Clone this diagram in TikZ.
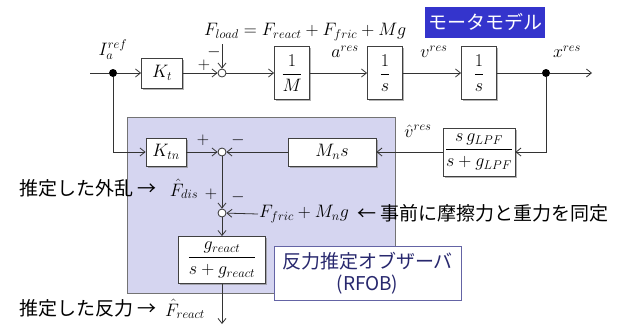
\RequirePackage{fix-cm}
\documentclass[tikz,border=0pt]{standalone}
\usepackage{amsmath}
\usepackage{fontspec}
\newfontfamily\jp{Noto Sans CJK JP}
\usetikzlibrary{arrows.meta,shadows}
\definecolor{lav}{RGB}{213,213,240}
\definecolor{mblue}{RGB}{52,52,204}
\definecolor{rfobedge}{RGB}{100,100,165}
\definecolor{rfobtext}{RGB}{40,40,110}
\begin{document}
\begin{tikzpicture}[x=1pt,y=-1pt,
  line/.style={draw=black!80, line width=0.8pt},
  arr/.style={line, -{Straight Barb[length=5pt,width=8pt]}},
  blk/.style={draw=black!75, fill=white, line width=0.8pt, inner sep=2pt, font=\fontsize{18}{20}\selectfont,
    drop shadow={shadow xshift=1.5pt,shadow yshift=-1.5pt,fill=black!50,opacity=0.6}},
  sumc/.style={circle, draw=black!80, fill=white, line width=0.8pt, minimum size=8pt, inner sep=0pt},
  dotn/.style={circle, fill=black, minimum size=8pt, inner sep=0pt},
  mt/.style={font=\fontsize{18}{20}\selectfont, inner sep=1pt},
  sg/.style={font=\fontsize{17}{18}\selectfont, inner sep=0pt},
  jt/.style={font=\jp\fontsize{19}{21}\selectfont, inner sep=0pt}
]
\useasboundingbox (0,0) rectangle (623,325);
% observer region
\draw[fill=lav, draw=black!55, line width=0.8pt] (127,117) rectangle (395,293);
% top row
\coordinate (in) at (90,73);
\node[dotn] (d1) at (113,73) {};
\node[blk, minimum width=41pt, minimum height=30pt] (kt) at (162,73) {$K_t$};
\node[sumc] (s1) at (222,73) {};
\node[blk, minimum width=35pt, minimum height=53pt] (m) at (292,73) {$\dfrac{1}{M}$};
\node[blk, minimum width=35pt, minimum height=53pt] (i1) at (385,73) {$\dfrac{1}{s}$};
\node[blk, minimum width=35pt, minimum height=53pt] (i2) at (479,73) {$\dfrac{1}{s}$};
\node[dotn] (d2) at (546,73) {};
\coordinate (out) at (592,73);
\draw[line] (in) -- (d1);
\draw[arr] (d1) -- (kt);
\draw[arr] (kt) -- (s1);
\draw[arr] (s1) -- (m);
\draw[arr] (m) -- (i1);
\draw[arr] (i1) -- (i2);
\draw[line] (i2) -- (d2);
\draw[arr] (d2) -- (out);
\node[mt] (lIa) at (113,50) {$I_a^{ref}$};
\node[mt, anchor=west] (lload) at (203,32) {$F_{load}=F_{react}+F_{fric}+Mg$};
\coordinate (loadtop) at (222,44);
\draw[arr] (loadtop) -- (s1);
\node[sg] (p1) at (204,65) {$+$};
\node[sg] (m1) at (214,52) {$-$};
\node[mt] (la) at (345,52) {$a^{res}$};
\node[mt] (lv) at (434,52) {$v^{res}$};
\node[mt] (lx) at (567,52) {$x^{res}$};
\node[fill=mblue, text=white, jt, minimum width=120pt, minimum height=31pt] (mm) at (485,22) {モータモデル};
% lower row
\node[blk, minimum width=40pt, minimum height=28pt] (ktn) at (166,152) {$K_{tn}$};
\node[sumc] (s2) at (222,152) {};
\node[blk, minimum width=88pt, minimum height=28pt] (mns) at (332,152) {$M_n s$};
\node[blk, minimum width=72pt, minimum height=48pt, inner sep=1pt] (lpf) at (479,152) {$\dfrac{s\,g_{LPF}}{s+g_{LPF}}$};
\draw[arr] (d2) |- (lpf.east);
\draw[arr] (lpf) -- (mns);
\draw[arr] (mns) -- (s2);
\draw[arr] (d1) |- (ktn.west);
\draw[arr] (ktn) -- (s2);
\node[mt] (lvh) at (418,131) {$\hat{v}^{res}$};
\node[sg] (p2) at (203,140) {$+$};
\node[sg] (m2) at (238,140) {$-$};
% disturbance junction
\node[sumc] (s3) at (222,213) {};
\draw[arr] (s2) -- (s3);
\node[sg] (p3) at (211,194) {$+$};
\node[sg] (m3) at (238,197) {$-$};
\node[mt, inner sep=0pt] (lfd) at (184,189) {$\hat{F}_{dis}$};
\node[jt, anchor=east] (tdis) at (157,188) {推定した外乱 →};
\node[mt, anchor=west] (ffric) at (258,214) {$F_{fric}+M_n g$};
\draw[arr] (ffric.west) -- (s3);
\node[jt, anchor=west] (tfric) at (357,213) {← 事前に摩擦力と重力を同定};
% reaction force filter
\node[blk, minimum width=87pt, minimum height=47pt, inner sep=1pt] (gr) at (222,260) {$\dfrac{g_{react}}{s+g_{react}}$};
\draw[arr] (s3) -- (gr);
\coordinate (fout) at (222,324);
\draw[arr] (gr) -- (fout);
\node[jt, anchor=east] (treact) at (157,308) {推定した反力 →};
\node[mt, anchor=west, inner sep=0pt] (lfr) at (165,309) {$\hat{F}_{react}$};
% RFOB label
\node[draw=rfobedge, fill=white, line width=1pt, minimum width=187pt, minimum height=54pt, align=center,
  text=rfobtext, font=\jp\fontsize{19}{22}\selectfont] (rfob) at (367.5,273) {反力推定オブザーバ\\(RFOB)};
\end{tikzpicture}
\end{document}
